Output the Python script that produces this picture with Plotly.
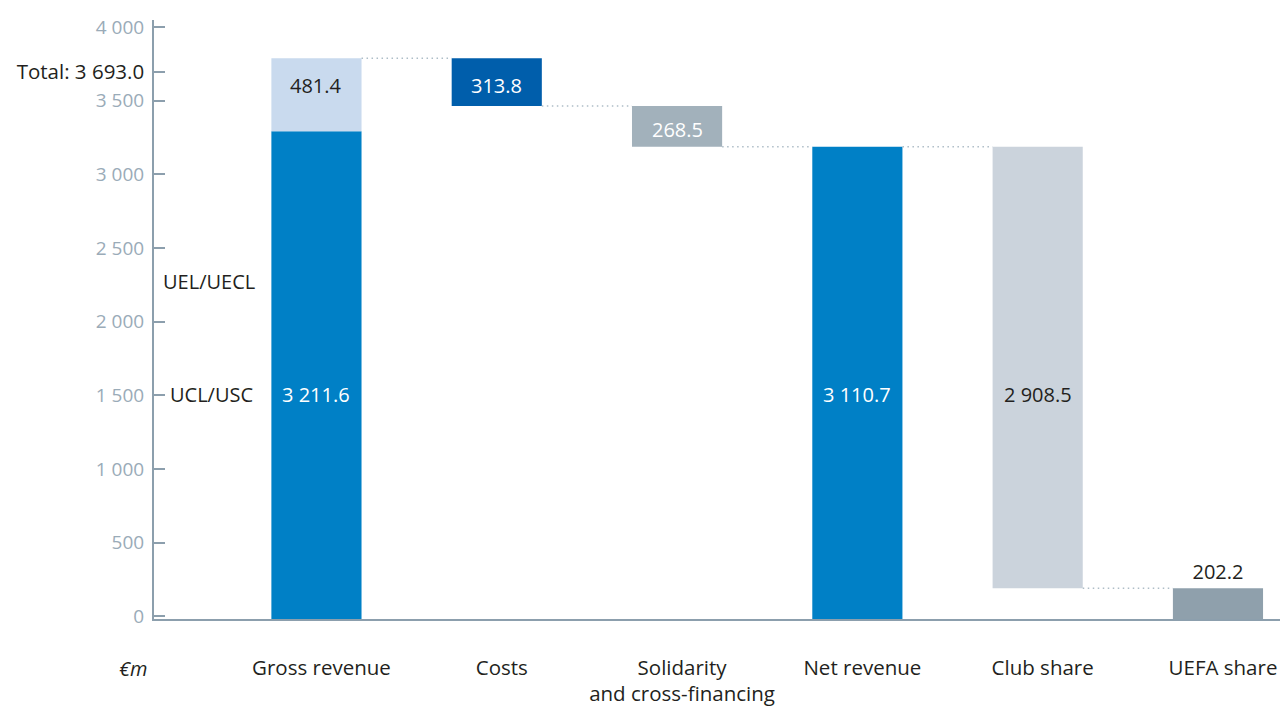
import plotly.graph_objects as go

# ---- data ----
categories = ["Gross revenue", "Costs", "Solidarity<br>and cross-financing",
              "Net revenue", "Club share", "UEFA share"]
ucl_usc = 3211.6
uel_uecl = 481.4
total = 3693.0
costs = 313.8
solidarity = 268.5
net_revenue = 3110.7
club_share = 2908.5
uefa_share = 202.2

tick_vals = [0, 500, 1000, 1500, 2000, 2500, 3000, 3500, 4000]
tick_text = ["0", "500", "1 000", "1 500", "2 000", "2 500",
             "3 000", "3 500", "4 000"]
total_label = "Total: 3 693.0"

bar_labels = ["481.4", "313.8", "268.5", "3 211.6", "3 110.7", "2 908.5"]

# ---- styles ----
FONT = "Open Sans"
DARK = "#231f20"
AXIS = "#8c9fad"
TICKGREY = "#9aabb8"
C_UCL = "#0080c6"
C_UEL = "#c9daee"
C_COST = "#005eab"
C_SOL = "#a2b1bb"
C_NET = "#0080c6"
C_CLUB = "#cbd3dc"
C_UEFA = "#8fa0ac"
BW = 0.5

xs = list(range(len(categories)))

# waterfall bases
cost_base = total - costs
sol_base = cost_base - solidarity
club_base = net_revenue - club_share

fig = go.Figure()

# invisible trace so that the visible (tick) y axis is drawn
fig.add_trace(go.Scatter(
    x=[xs[0]], y=[0], mode="markers", marker=dict(opacity=0),
    showlegend=False, hoverinfo="skip",
))

# main bars (bar scale on y2)
fig.add_trace(go.Bar(
    x=xs,
    y=[ucl_usc, costs, solidarity, net_revenue, club_share, uefa_share],
    base=[0, cost_base, sol_base, 0, club_base, 0],
    width=BW,
    marker=dict(color=[C_UCL, C_COST, C_SOL, C_NET, C_CLUB, C_UEFA], line=dict(width=0)),
    text=["", "", "", "", "", f"{uefa_share:.1f}"],
    textposition=["none", "none", "none", "none", "none", "outside"],
    textfont=dict(family=FONT, size=20, color=DARK),
    cliponaxis=False,
    yaxis="y2", showlegend=False, hoverinfo="skip",
))
# UEL/UECL segment on top of gross revenue
fig.add_trace(go.Bar(
    x=[xs[0]], y=[uel_uecl], base=[ucl_usc], width=BW,
    marker=dict(color=C_UEL, line=dict(width=0)),
    yaxis="y2", showlegend=False, hoverinfo="skip",
))

# dotted connectors
levels = [total, cost_base, sol_base, net_revenue, club_base]
cx, cy = [], []
for i, lv in enumerate(levels):
    cx += [xs[i] + BW / 2, xs[i + 1] - BW / 2, None]
    cy += [lv, lv, None]
fig.add_trace(go.Scatter(
    x=cx, y=cy, mode="lines", yaxis="y2",
    line=dict(color="#aebdc7", width=1.5, dash="1.5px,3.5px"),
    showlegend=False, hoverinfo="skip",
))

# value labels (annotations on the bar scale)
top_row = (total + cost_base) / 2
mid_row = 1500
label_x = [xs[0], xs[1], xs[2], xs[0], xs[3], xs[4]]
label_y = [top_row, (total + cost_base) / 2, (cost_base + sol_base) / 2,
           mid_row, mid_row, mid_row]
label_c = [DARK, "white", "white", "white", "white", DARK]

annotations = []
for lx, ly, lt, lc in zip(label_x, label_y, bar_labels, label_c):
    annotations.append(dict(
        text=lt, x=lx, y=ly, xref="x", yref="y2", xanchor="center", yanchor="middle",
        yshift=-3, showarrow=False, font=dict(family=FONT, size=20, color=lc)))

annotations += [
    dict(text="UCL/USC", x=xs[0] - BW / 2, y=mid_row, xref="x", yref="y2",
         xanchor="right", yanchor="middle", xshift=-16, yshift=-3, showarrow=False,
         font=dict(family=FONT, size=20, color=DARK)),
    dict(text="UEL/UECL", x=xs[0] - BW / 2, y=2225, xref="x", yref="y2",
         xanchor="right", yanchor="middle", xshift=-14, showarrow=False,
         font=dict(family=FONT, size=20, color=DARK)),
    dict(text="<i>€m</i>", x=0, y=0, xref="paper", yref="paper",
         xanchor="right", yanchor="middle", xshift=-5, yshift=-49, showarrow=False,
         font=dict(family=FONT, size=20, color=DARK)),
]

yt_vals = tick_vals + [total]
yt_text = tick_text + [f"<span style='color:{DARK};font-size:20.5px'>{total_label}</span>"]

fig.update_layout(
    width=1280, height=706,
    margin=dict(l=154, r=0, t=20, b=87),
    paper_bgcolor="white", plot_bgcolor="white",
    barmode="overlay",
    font=dict(family=FONT, color=DARK),
    annotations=annotations,
    xaxis=dict(
        range=[-0.901, 5.344], tickvals=xs, ticktext=categories,
        showgrid=False, zeroline=False, showline=True, linecolor=AXIS, linewidth=2,
        ticks="", tickfont=dict(family=FONT, size=20.5, color=DARK),
        ticklabelstandoff=29, ticklabelshift=5, automargin=False,
    ),
    yaxis=dict(
        range=[-17.6, 4048], tickvals=yt_vals, ticktext=yt_text,
        showgrid=False, zeroline=False, showline=True, linecolor=AXIS, linewidth=2,
        ticks="inside", ticklen=11, tickwidth=1.5, tickcolor=AXIS,
        tickfont=dict(family=FONT, size=19, color=TICKGREY),
        ticklabelstandoff=4, automargin=False,
    ),
    yaxis2=dict(
        range=[0, 3945], overlaying="y", visible=False, showgrid=False, zeroline=False,
    ),
)

fig.write_html("out.html")
